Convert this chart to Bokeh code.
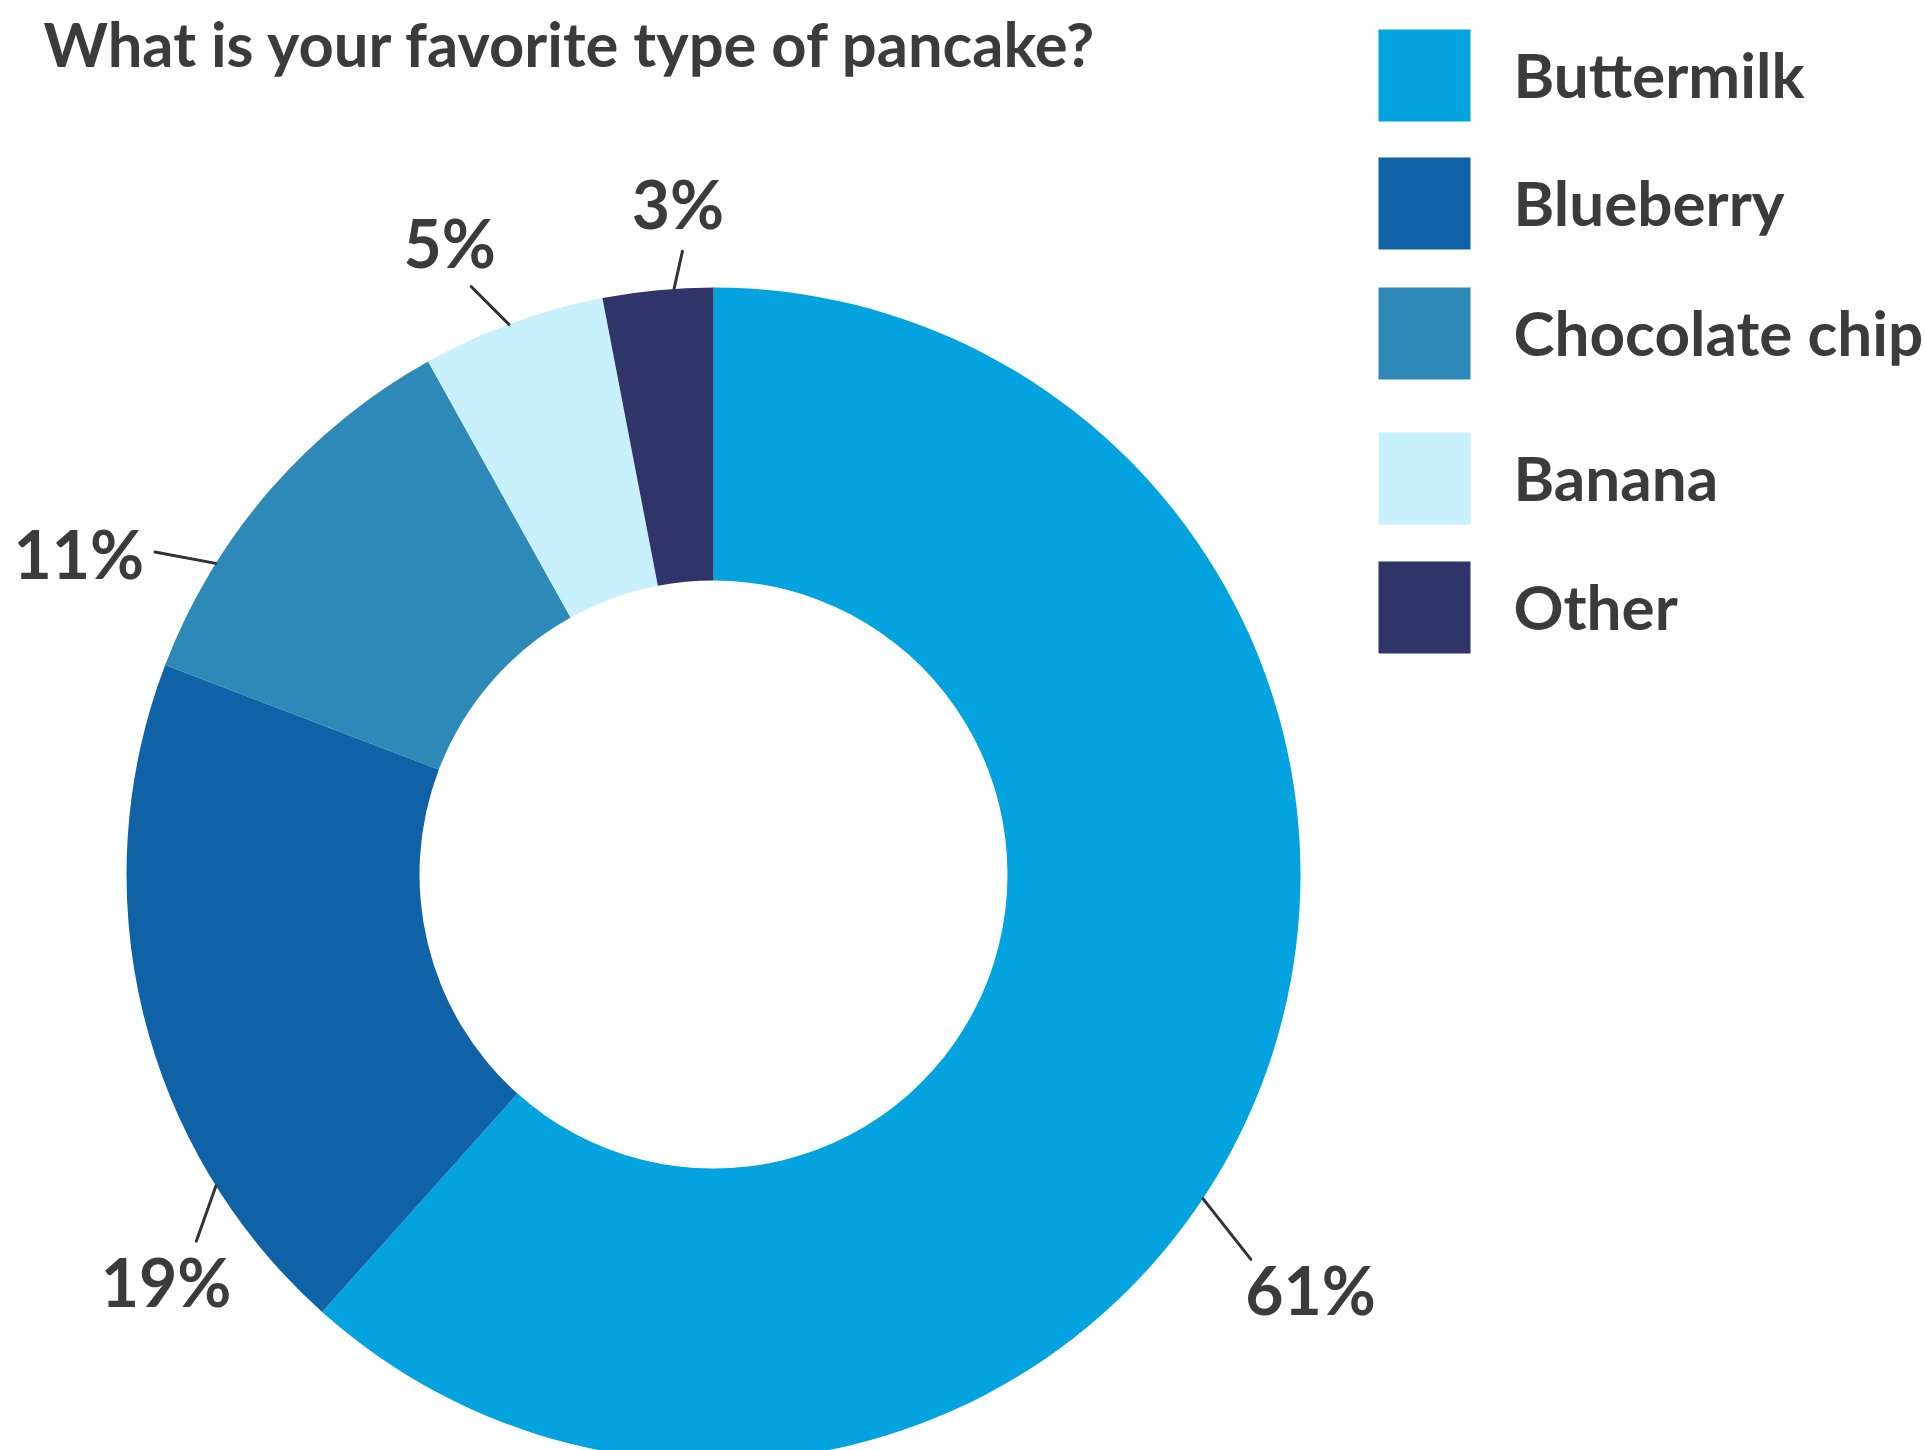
import numpy as np
from bokeh.plotting import figure
from bokeh.models import Range1d
from bokeh.core.properties import value
from bokeh.embed import file_html
from bokeh.resources import INLINE

# ---------------- data ----------------
title_text = "What is your favorite type of pancake?"
categories = ["Buttermilk", "Blueberry", "Chocolate chip", "Banana", "Other"]
percents = [61, 19, 11, 5, 3]
colors = ["#03A3E0", "#0E62A5", "#2D8AB8", "#C8F0FD", "#2F3469"]

# ---------------- layout / style ----------------
W, H = 1925, 1450
CX, CY_S = 713, 874          # donut centre (screen px, y down)
R_OUT, R_IN = 587, 294
TEXT_COLOR = "#3B3B3B"
FONT = "Lato"
BASE_FIX = 0.41              # empirical baseline correction (em)

# label placement (degrees relative to slice middle, radii in px)
LBL_START_SHIFT = [12.6, -18.4, -8.9, -0.4, 1.6]
LBL_END_SHIFT = [14.7, -21.7, -10.9, -2.4, 2.6]
LBL_END_R = [661, 634, 645, 636, 624]
LBL_TEXT_SHIFT = [14.1, -23.2, -14.3, -2.75, 2.4]
LBL_TEXT_R = [729, 684, 710, 682, 669]
LBL_FS = 66

LEGEND_X = 1378
LEGEND_TOPS = [29, 157, 287, 432, 561]
SWATCH = 92
LEGEND_TEXT_X = 1513
LEGEND_FS = 62

TITLE_X, TITLE_BASE, TITLE_FS = 43, 68, 61.5

# ---------------- computations ----------------
vals = np.array(percents, dtype=float)
frac = vals / vals.sum()
cum_end = np.cumsum(frac)
cum_start = cum_end - frac
start_ang = np.pi / 2 - 2 * np.pi * cum_start
end_ang = np.pi / 2 - 2 * np.pi * cum_end
mid_deg = (cum_start + frac / 2) * 360.0   # clockwise from top

cy = H - CY_S


def polar(r, deg):
    t = np.radians(deg)
    return CX + r * np.sin(t), cy + r * np.cos(t)


p = figure(width=W, height=H, output_backend="svg", toolbar_location=None,
           x_range=Range1d(0, W), y_range=Range1d(0, H), min_border=0,
           background_fill_color="white", border_fill_color="white")
p.axis.visible = False
p.grid.visible = False
p.outline_line_color = None

# donut
p.annular_wedge(x=CX, y=cy, inner_radius=R_IN, outer_radius=R_OUT,
                start_angle=start_ang, end_angle=end_ang, direction="clock",
                fill_color=colors, line_color=None)

# leader lines
x0, y0 = polar(R_OUT, mid_deg + np.array(LBL_START_SHIFT))
x1, y1 = polar(np.array(LBL_END_R), mid_deg + np.array(LBL_END_SHIFT))
p.segment(x0=x0, y0=y0, x1=x1, y1=y1, line_color="#333333", line_width=3,
          line_cap="round")

# percentage labels
tx, ty = polar(np.array(LBL_TEXT_R), mid_deg + np.array(LBL_TEXT_SHIFT))
labels = [f"{v}%" for v in percents]
p.text(x=tx, y=ty - 0.358 * LBL_FS + BASE_FIX * LBL_FS, text=labels,
       text_align="center", text_baseline="alphabetic", text_font=value(FONT),
       text_font_style="bold", text_font_size=f"{LBL_FS}px",
       text_color=TEXT_COLOR)

# title
p.text(x=[TITLE_X], y=[H - TITLE_BASE + BASE_FIX * TITLE_FS], text=[title_text],
       text_align="left", text_baseline="alphabetic", text_font=value(FONT),
       text_font_style="bold", text_font_size=f"{TITLE_FS}px",
       text_color=TEXT_COLOR)

# legend
tops = np.array(LEGEND_TOPS, dtype=float)
centers = H - (tops + SWATCH / 2)
p.rect(x=LEGEND_X + SWATCH / 2, y=centers, width=SWATCH, height=SWATCH,
       fill_color=colors, line_color=None)
p.text(x=LEGEND_TEXT_X, y=centers - 24.4 + BASE_FIX * LEGEND_FS, text=categories,
       text_align="left", text_baseline="alphabetic", text_font=value(FONT),
       text_font_style="bold", text_font_size=f"{LEGEND_FS}px",
       text_color=TEXT_COLOR)

open("out.html", "w").write(file_html(p, INLINE))
